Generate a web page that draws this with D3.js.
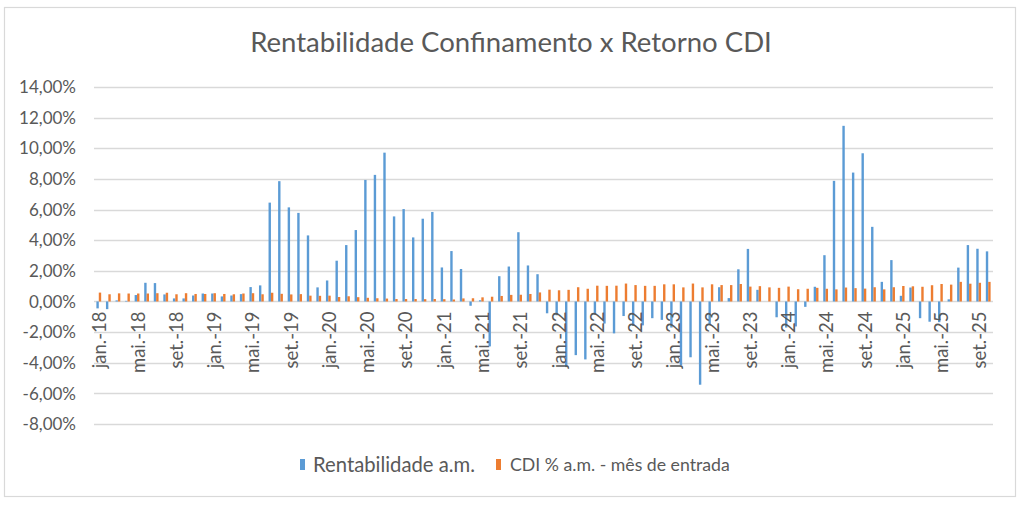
<!DOCTYPE html>
<html>
<head>
<meta charset="utf-8">
<script src="https://cdn.jsdelivr.net/npm/d3@7"></script>
<style>
  html, body { margin: 0; padding: 0; background: #fff; }
  svg text { font-family: Lato, "Open Sans", sans-serif; fill: #595959; }
</style>
</head>
<body>
<svg id="chart" width="1024" height="505"></svg>
<script>
const categories = [
  "jan.-18","fev.-18","mar.-18","abr.-18","mai.-18","jun.-18","jul.-18","ago.-18","set.-18","out.-18","nov.-18","dez.-18",
  "jan.-19","fev.-19","mar.-19","abr.-19","mai.-19","jun.-19","jul.-19","ago.-19","set.-19","out.-19","nov.-19","dez.-19",
  "jan.-20","fev.-20","mar.-20","abr.-20","mai.-20","jun.-20","jul.-20","ago.-20","set.-20","out.-20","nov.-20","dez.-20",
  "jan.-21","fev.-21","mar.-21","abr.-21","mai.-21","jun.-21","jul.-21","ago.-21","set.-21","out.-21","nov.-21","dez.-21",
  "jan.-22","fev.-22","mar.-22","abr.-22","mai.-22","jun.-22","jul.-22","ago.-22","set.-22","out.-22","nov.-22","dez.-22",
  "jan.-23","fev.-23","mar.-23","abr.-23","mai.-23","jun.-23","jul.-23","ago.-23","set.-23","out.-23","nov.-23","dez.-23",
  "jan.-24","fev.-24","mar.-24","abr.-24","mai.-24","jun.-24","jul.-24","ago.-24","set.-24","out.-24","nov.-24","dez.-24",
  "jan.-25","fev.-25","mar.-25","abr.-25","mai.-25","jun.-25","jul.-25","ago.-25","set.-25","out.-25"
];

// Rentabilidade a.m. (%)
const rentabilidade = [
  -0.45,-0.50, 0.07, 0.04, 0.42, 1.22, 1.20, 0.46, 0.20, 0.20, 0.39, 0.52,
   0.52, 0.33, 0.39, 0.48, 0.94, 1.05, 6.45, 7.85, 6.14, 5.78, 4.31, 0.92,
   1.37, 2.66, 3.68, 4.66, 7.93, 8.26, 9.71, 5.55, 6.03, 4.18, 5.40, 5.84,
   2.22, 3.29, 2.12,-0.28, 0.08,-2.93, 1.65, 2.28, 4.52, 2.35, 1.78,-0.77,
  -0.90,-4.28,-3.50,-3.78,-0.85,-1.44,-2.08,-0.95,-1.59,-1.56,-1.09,-1.20,
  -1.70,-4.15,-3.64,-5.43,-1.50, 0.93, 0.22, 2.10, 3.43, 0.76, 0.00,-1.03,
  -1.70,-1.63,-0.35, 0.96, 3.02, 7.87,11.46, 8.41, 9.67, 4.87, 1.28, 2.70,
   0.37, 0.91,-1.09,-1.32,-1.35, 0.14, 2.21, 3.68, 3.44, 3.27
];

// CDI % a.m. - mês de entrada (%)
const cdi = [
  0.58,0.47,0.53,0.52,0.52,0.52,0.54,0.57,0.47,0.54,0.49,0.49,
  0.54,0.49,0.47,0.52,0.54,0.47,0.57,0.50,0.46,0.48,0.38,0.37,
  0.38,0.29,0.34,0.28,0.24,0.21,0.19,0.16,0.16,0.16,0.15,0.16,
  0.15,0.13,0.20,0.21,0.27,0.31,0.36,0.43,0.44,0.49,0.59,0.77,
  0.73,0.76,0.93,0.83,1.03,1.02,1.03,1.17,1.07,1.02,1.02,1.12,
  1.12,0.92,1.17,0.92,1.12,1.07,1.07,1.14,0.97,1.00,0.92,0.89,
  0.97,0.80,0.83,0.89,0.83,0.79,0.91,0.87,0.84,0.93,0.79,0.93,
  1.01,0.99,0.96,1.06,1.14,1.10,1.28,1.16,1.22,1.28
];

const yTicks = [-8,-6,-4,-2,0,2,4,6,8,10,12,14];
const xTickLabels = categories.filter((d, i) => i % 4 === 0);
const seriesNames = ["Rentabilidade a.m.", "CDI % a.m. - mês de entrada"];
const seriesColors = ["#5B9BD5", "#ED7D31"];
const title = "Rentabilidade Confinamento x Retorno CDI";

const svg = d3.select("#chart");

// outer border
svg.append("rect")
  .attr("x", 4.5).attr("y", 7.5).attr("width", 1011).attr("height", 489)
  .attr("fill", "#fff").attr("stroke", "#d9d9d9").attr("stroke-width", 1.2);

const x = d3.scaleBand().domain(categories).range([94, 993]).padding(0);
const x1 = d3.scaleBand().domain(["r", "c"]).range([0, x.bandwidth()]).paddingInner(0).paddingOuter(1);
const y = d3.scaleLinear().domain([-8, 14]).range([424.1, 86.9]);

// gridlines
svg.append("g").selectAll("line").data(yTicks).join("line")
  .attr("x1", 94).attr("x2", 993)
  .attr("y1", d => Math.round(y(d)) + 0.5).attr("y2", d => Math.round(y(d)) + 0.5)
  .attr("stroke", "#d9d9d9").attr("stroke-width", 1.3);

// y tick labels
const fmt = d => d.toFixed(2).replace(".", ",") + "%";
svg.append("g").selectAll("text").data(yTicks).join("text")
  .attr("x", 76).attr("y", d => y(d)).attr("dy", "0.36em")
  .attr("text-anchor", "end").attr("font-size", 17)
  .text(fmt);

// bars
const bars = svg.append("g");
bars.selectAll("rect.r").data(rentabilidade).join("rect").attr("class", "r")
  .attr("x", (d, i) => x(categories[i]) + x1("r"))
  .attr("width", x1.bandwidth())
  .attr("y", d => y(Math.max(0, d)))
  .attr("height", d => Math.abs(y(d) - y(0)))
  .attr("fill", seriesColors[0]);
bars.selectAll("rect.c").data(cdi).join("rect").attr("class", "c")
  .attr("x", (d, i) => x(categories[i]) + x1("c"))
  .attr("width", x1.bandwidth())
  .attr("y", d => y(Math.max(0, d)))
  .attr("height", d => Math.abs(y(d) - y(0)))
  .attr("fill", seriesColors[1]);

// x tick labels (rotated)
svg.append("g").selectAll("text").data(xTickLabels).join("text")
  .attr("transform", d => `translate(${x(d) + x.bandwidth() / 2 + 1},${y(0) + 10}) rotate(-90)`)
  .attr("dy", "0.36em")
  .attr("text-anchor", "end").attr("font-size", 18.5)
  .text(d => d);

// title
const t = svg.append("text")
  .attr("x", 511).attr("y", 52).attr("text-anchor", "middle")
  .attr("font-size", 28).text(title);
const tw = t.node().getComputedTextLength();
t.attr("font-size", 28 * 522 / tw);

// legend
const legendItems = [
  { name: seriesNames[0], color: seriesColors[0], mx: 300, tx: 313, w: 162 },
  { name: seriesNames[1], color: seriesColors[1], mx: 496, tx: 510, w: 220 }
];
const lg = svg.append("g");
legendItems.forEach(it => {
  lg.append("rect").attr("x", it.mx).attr("y", 459).attr("width", 5).attr("height", 11).attr("fill", it.color);
  const tt = lg.append("text").attr("x", it.tx).attr("y", 465).attr("dy", "0.36em")
    .attr("font-size", 17).text(it.name);
  const w = tt.node().getComputedTextLength();
  tt.attr("font-size", 17 * it.w / w);
});
</script>
</body>
</html>
